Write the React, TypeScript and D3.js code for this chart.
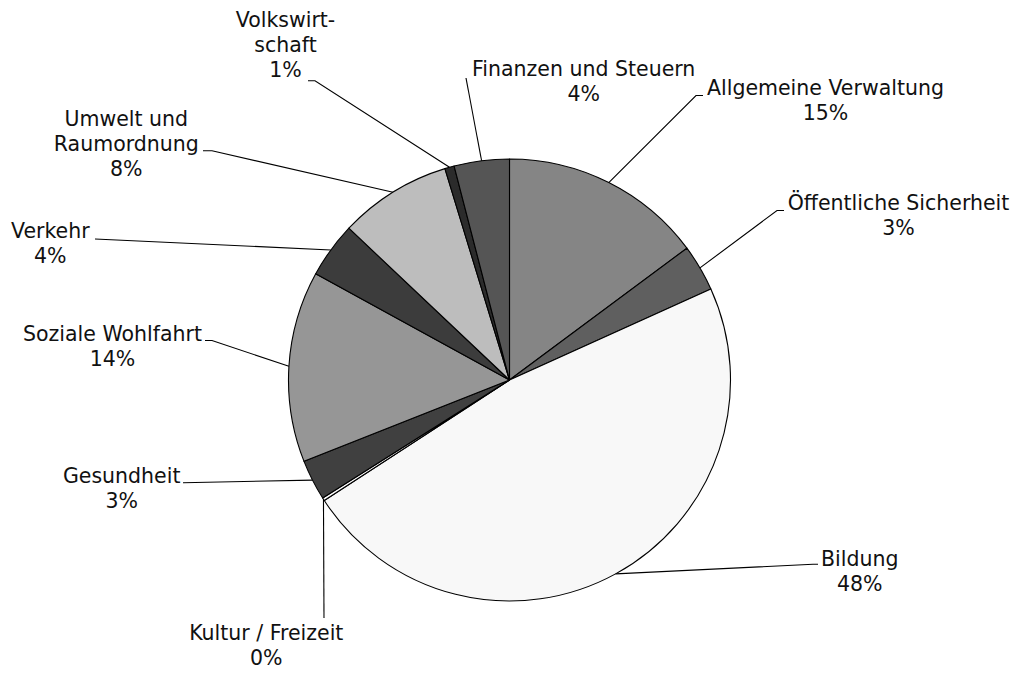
import React from "react";
import * as d3 from "d3";

// ---- data ----
const categories = [
  "Allgemeine Verwaltung",
  "Öffentliche Sicherheit",
  "Bildung",
  "Kultur / Freizeit",
  "Gesundheit",
  "Soziale Wohlfahrt",
  "Verkehr",
  "Umwelt und Raumordnung",
  "Volkswirtschaft",
  "Finanzen und Steuern",
];
const shares = [14.83, 3.41, 47.58, 0.21, 2.97, 13.98, 4.07, 8.23, 0.69, 4.03];
const labelLines = [
  ["Allgemeine Verwaltung"],
  ["Öffentliche Sicherheit"],
  ["Bildung"],
  ["Kultur / Freizeit"],
  ["Gesundheit"],
  ["Soziale Wohlfahrt"],
  ["Verkehr"],
  ["Umwelt und", "Raumordnung"],
  ["Volkswirt-", "schaft"],
  ["Finanzen und Steuern"],
];
const percentLabels = ["15%", "3%", "48%", "0%", "3%", "14%", "4%", "8%", "1%", "4%"];

// ---- styles / layout ----
const fills = ["#858585", "#5f5f5f", "#f8f8f8", "#fbfbfb", "#404040", "#969696", "#3c3c3c", "#bdbdbd", "#2b2b2b", "#555555"];
// label text: center x, first baseline y; leader anchor (ax, ay) and elbow length (signed)
const labelLayout = [
  { x: 825.5, y: 95, ax: 703, ay: 95.5, elbow: -7 },
  { x: 898.5, y: 209.5, ax: 784, ay: 210.5, elbow: -7 },
  { x: 859.7, y: 566, ax: 818, ay: 564.3, elbow: -5 },
  { x: 266.3, y: 640, ax: 324, ay: 618, elbow: 0 },
  { x: 121.7, y: 483.3, ax: 183, ay: 482.7, elbow: 0 },
  { x: 112.5, y: 340.7, ax: 205, ay: 340.5, elbow: 7 },
  { x: 50.3, y: 238.3, ax: 95, ay: 239, elbow: 0 },
  { x: 126.3, y: 125.5, ax: 203, ay: 150.8, elbow: 9 },
  { x: 285.5, y: 26.7, ax: 308, ay: 80.8, elbow: 7 },
  { x: 583.7, y: 76, ax: 466, ay: 78, elbow: 0 },
];
const W = 1017;
const H = 673;
const CX = 509.5;
const CY = 380;
const R = 221;
const LINE_H = 25;

export default function App() {
  const pie = d3
    .pie<number>()
    .sort(null)
    .value((d) => d)(shares);
  const arc = d3.arc<d3.PieArcDatum<number>>().innerRadius(0).outerRadius(R);

  return (
    <svg
      width={W}
      height={H}
      style={{ position: "absolute", left: 0, top: 0, background: "#fff" }}
      fontFamily="'DejaVu Sans', Verdana, sans-serif"
      fontSize={20.5}
    >
      <g transform={`translate(${CX},${CY})`}>
        {pie.map((p, i) => (
          <path key={categories[i]} d={arc(p) || ""} fill={fills[i]} stroke="#000" strokeWidth={1.1} strokeLinejoin="round" />
        ))}
      </g>
      {pie.map((p, i) => {
        const mid = (p.startAngle + p.endAngle) / 2;
        const px = CX + R * Math.sin(mid);
        const py = CY - R * Math.cos(mid);
        const L = labelLayout[i];
        const pts: [number, number][] = [[px, py]];
        if (L.elbow !== 0) pts.push([L.ax + L.elbow, L.ay]);
        pts.push([L.ax, L.ay]);
        const line = d3.line()(pts) || "";
        const lines = [...labelLines[i], percentLabels[i]];
        return (
          <g key={"lbl" + i}>
            <path d={line} fill="none" stroke="#000" strokeWidth={1.1} />
            <text textAnchor="middle" fill="#111">
              {lines.map((t, j) => (
                <tspan key={j} x={L.x} y={L.y + j * LINE_H}>
                  {t}
                </tspan>
              ))}
            </text>
          </g>
        );
      })}
    </svg>
  );
}
